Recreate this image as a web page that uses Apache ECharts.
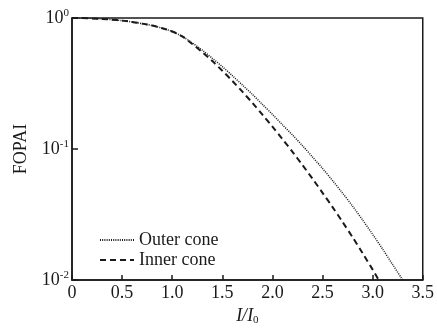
<!DOCTYPE html>
<html>
<head>
<meta charset="utf-8">
<script src="https://cdn.jsdelivr.net/npm/echarts@6/dist/echarts.min.js"></script>
<style>
  html, body { margin: 0; padding: 0; background: #fff; }
  #chart { width: 437px; height: 331px; }
</style>
</head>
<body>
<div id="chart"></div>
<script>
// I/I0 sample points
const outerX = [0, 0.1, 0.2, 0.3, 0.4, 0.5, 0.6, 0.7, 0.8, 0.9, 1.0, 1.1, 1.2, 1.3, 1.4, 1.5, 1.6, 1.7, 1.8, 1.9, 2.0, 2.1, 2.2, 2.3, 2.4, 2.5, 2.6, 2.7, 2.8, 2.9, 3.0, 3.1, 3.2, 3.3]
const outerY = [1.0, 0.998, 0.993, 0.984, 0.971, 0.955, 0.933, 0.906, 0.875, 0.836, 0.789, 0.724, 0.646, 0.568, 0.493, 0.425, 0.363, 0.308, 0.261, 0.219, 0.184, 0.153, 0.128, 0.106, 0.0869, 0.0710, 0.0574, 0.0460, 0.0366, 0.0287, 0.0223, 0.0172, 0.0131, 0.0100]

const innerX = [0, 0.1, 0.2, 0.3, 0.4, 0.5, 0.6, 0.7, 0.8, 0.9, 1.0, 1.1, 1.2, 1.3, 1.4, 1.5, 1.6, 1.7, 1.8, 1.9, 2.0, 2.1, 2.2, 2.3, 2.4, 2.5, 2.6, 2.7, 2.8, 2.9, 3.0, 3.06]
const innerY = [1.0, 0.998, 0.993, 0.984, 0.971, 0.955, 0.933, 0.906, 0.875, 0.836, 0.789, 0.724, 0.634, 0.548, 0.469, 0.396, 0.331, 0.274, 0.225, 0.183, 0.148, 0.119, 0.0951, 0.0753, 0.0593, 0.0463, 0.0360, 0.0277, 0.0212, 0.0160, 0.0120, 0.0100]

const seriesNames = ['Outer cone', 'Inner cone']
const xTicks = [0, 0.5, 1.0, 1.5, 2.0, 2.5, 3.0, 3.5]

const font = 'Liberation Serif'
const ink = '#1a1a1a'

const chart = echarts.init(document.getElementById('chart'))

const option = {
  animation: false,
  backgroundColor: '#fff',
  textStyle: { fontFamily: font, color: ink },
  grid: {
    left: 72,
    right: 13,
    top: 18,
    bottom: 43,
    show: true,
    borderColor: ink,
    borderWidth: 1.5
  },
  legend: {
    orient: 'vertical',
    left: 94,
    top: 226,
    itemWidth: 34,
    itemHeight: 12,
    itemGap: 2,
    itemStyle: { opacity: 0 },
    textStyle: { fontFamily: font, fontSize: 18, color: ink },
    data: seriesNames
  },
  xAxis: {
    type: 'value',
    min: xTicks[0],
    max: xTicks[xTicks.length - 1],
    interval: 0.5,
    name: '{i|I/I}{s|0}',
    nameLocation: 'middle',
    nameGap: 27,
    nameTextStyle: {
      rich: {
        i: { fontFamily: font, fontStyle: 'italic', fontSize: 18, color: ink },
        s: { fontFamily: font, fontSize: 11, color: ink, verticalAlign: 'bottom', padding: [8, 0, 0, 0] }
      }
    },
    axisLine: { lineStyle: { color: ink, width: 1.5 } },
    axisTick: { inside: true, length: 5, lineStyle: { color: ink, width: 1.5 } },
    axisLabel: {
      fontFamily: font,
      fontSize: 18,
      color: ink,
      margin: 4,
      formatter: v => (v === 0 ? '0' : v.toFixed(1))
    },
    splitLine: { show: false }
  },
  yAxis: {
    type: 'log',
    logBase: 10,
    min: 0.01,
    max: 1,
    name: 'FOPAI',
    nameLocation: 'middle',
    nameGap: 42,
    nameTextStyle: { fontFamily: font, fontSize: 18, color: ink },
    axisLine: { lineStyle: { color: ink, width: 1.5 } },
    axisTick: { inside: true, length: 6, lineStyle: { color: ink, width: 1.5 } },
    minorTick: { show: false },
    axisLabel: {
      margin: 3,
      formatter: v => '10{s|' + Math.round(Math.log10(v)) + '}',
      rich: {
        s: { fontFamily: font, fontSize: 11, color: ink, verticalAlign: 'top', padding: [0, 0, 10, 0] }
      },
      fontFamily: font,
      fontSize: 18,
      color: ink
    },
    splitLine: { show: false }
  },
  series: [
    {
      name: seriesNames[0],
      type: 'line',
      data: outerX.map((x, i) => [x, outerY[i]]),
      smooth: 0.3,
      symbol: 'none',
      clip: true,
      lineStyle: { color: ink, width: 1.5, type: [1, 1.2] },
      itemStyle: { color: ink }
    },
    {
      name: seriesNames[1],
      type: 'line',
      data: innerX.map((x, i) => [x, innerY[i]]),
      smooth: 0.3,
      symbol: 'none',
      clip: true,
      lineStyle: { color: ink, width: 2, type: [6, 4] },
      itemStyle: { color: ink }
    }
  ]
}

chart.setOption(option)
</script>
</body>
</html>
